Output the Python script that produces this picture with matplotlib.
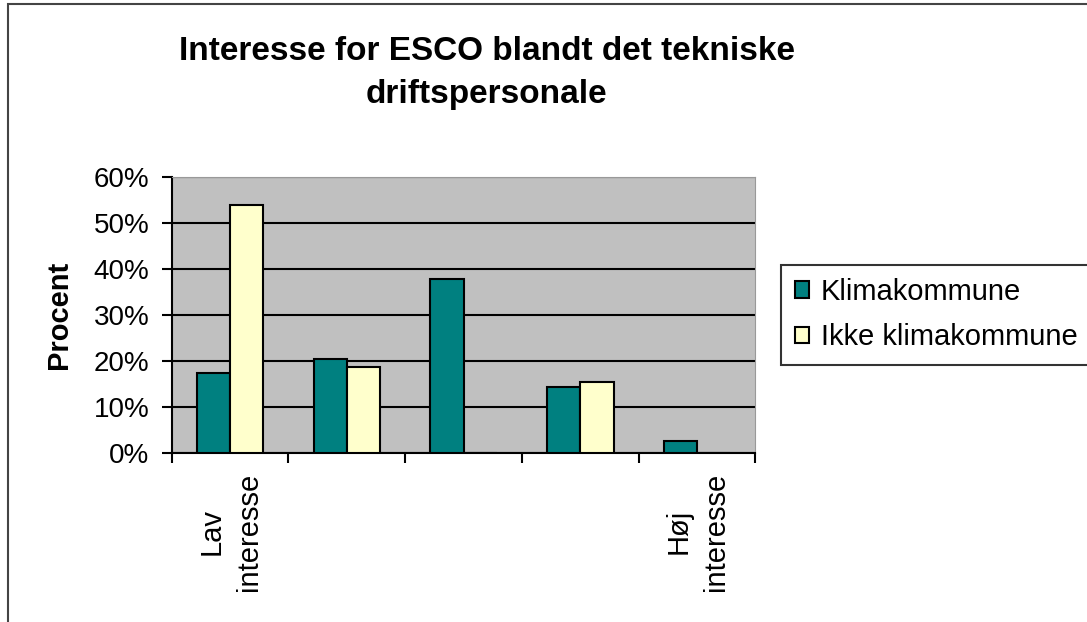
import numpy as np
import matplotlib.pyplot as plt
from matplotlib.patches import Rectangle
from matplotlib.ticker import FixedLocator

plt.rcParams['font.family'] = ['Liberation Sans', 'DejaVu Sans']

categories = ["Lav\ninteresse", "", "", "", "Høj\ninteresse"]
klima = [17.4, 20.4, 37.8, 14.3, 2.6]
ikke_klima = [53.9, 18.7, 0, 15.3, 0]
yticks = [0, 10, 20, 30, 40, 50, 60]

fig = plt.figure(figsize=(10.87, 6.22), dpi=100)
ax = fig.add_axes([0.158, 0.272, 0.537, 0.444])

# outer chart frame (runs off the right and bottom edges)
fig.patches.append(Rectangle((8 / 1087, -0.05), 1.1, 1 - 4 / 622 + 0.05,
                             transform=fig.transFigure, fill=False,
                             edgecolor='#444444', linewidth=1.5))

x = np.arange(len(categories))
w = 0.285
ax.bar(x - w / 2, klima, w, color='#008080', edgecolor='black', linewidth=1.5,
       label='Klimakommune', zorder=3)
ax.bar(x + w / 2, ikke_klima, w, color='#FFFFCC', edgecolor='black', linewidth=1.5,
       label='Ikke klimakommune', zorder=3)

ax.set_facecolor('#C0C0C0')
ax.set_xlim(-0.5, len(categories) - 0.5)
ax.set_ylim(0, 60)
ax.set_yticks(yticks)
ax.set_yticklabels([f"{t}%" for t in yticks], fontsize=20)
ax.yaxis.grid(True, color='black', linewidth=1.5, zorder=1)
ax.set_axisbelow(True)

ax.set_xticks(x)
ax.set_xticklabels(categories, rotation=90, fontsize=21, va='top', ha='center',
                   multialignment='center', linespacing=1.45)
ax.tick_params(axis='x', which='major', length=0, pad=14)
ax.xaxis.set_minor_locator(FixedLocator(np.arange(-0.5, len(categories), 1)))
ax.tick_params(axis='x', which='minor', length=7, width=1.5)
ax.tick_params(axis='y', length=7, width=1.5, pad=9)

for s in ['left', 'bottom']:
    ax.spines[s].set_linewidth(1.5)
for s in ['top', 'right']:
    ax.spines[s].set_color('#999999')

ax.set_ylabel("Procent", fontsize=21, fontweight='bold', labelpad=15)
fig.text(0.4476, 0.882, "Interesse for ESCO blandt det tekniske\ndriftspersonale",
         ha='center', va='center', fontsize=24, fontweight='bold', linespacing=1.5)

leg = ax.legend(loc='center left', bbox_to_anchor=(1.0446, 0.5), fontsize=21,
                frameon=True, fancybox=False, edgecolor='black',
                handlelength=0.5, handleheight=0.5, handletextpad=0.4,
                borderpad=0.45, labelspacing=0.6, borderaxespad=0)
leg.get_frame().set_linewidth(1.5)

fig.savefig("out.png", dpi=100)
